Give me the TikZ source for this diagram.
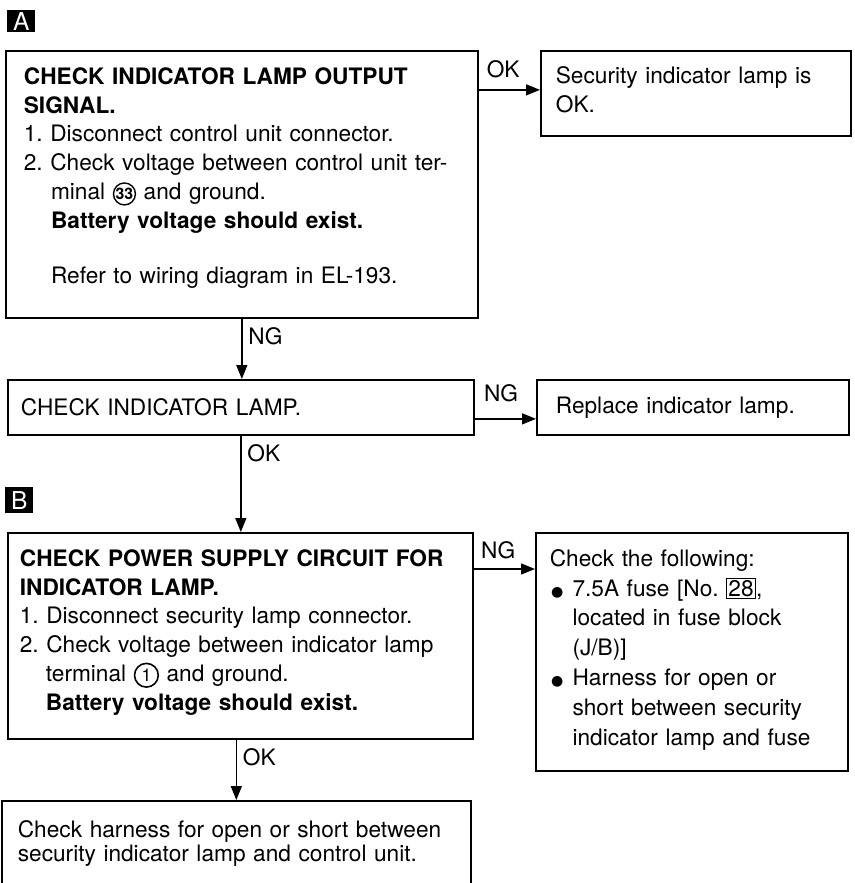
\documentclass[tikz,border=0pt]{standalone}
\usepackage{fontspec}
\setmainfont{TeX Gyre Heros}
\newfontfamily\symfont{DejaVu Sans}
\usepackage{tikz}
\usetikzlibrary{arrows.meta, positioning}

% circled terminal numbers, boxed fuse number, bullet, extra depth under a box text
\tikzset{termring/.style={draw, circle, anchor=center, text width={}, align=none, minimum width=0pt, minimum height=0pt}}
\newcommand{\termno}[1]{\tikz[baseline=(c.base)]\node[termring, line width=0.8pt, inner sep=0pt, minimum size=12.5pt, font=\small\bfseries] (c) {#1};}
\newcommand{\termnoB}[1]{\tikz[baseline=(c.base)]\node[termring, line width=0.9pt, inner sep=0pt, minimum size=13.5pt, font=\normalsize] (c) {#1};}
\newcommand{\fuseno}[1]{{\setlength\fboxsep{0.8pt}\setlength\fboxrule{0.5pt}\fbox{#1}}}
\newcommand{\dotitem}{\makebox[1em][l]{\hspace{0.05em}{\symfont\footnotesize ●}}}
\newcommand{\padbelow}[1]{\rule[-#1]{0pt}{#1}}

\begin{document}
\frenchspacing
\begin{tikzpicture}[x=0.02cm, y=-0.02cm,
    font=\fontsize{12.9pt}{16.4pt}\selectfont,
    box/.style={rectangle, draw, line width=1pt, align=left, anchor=north west, inner ysep=0pt},
    marker/.style={rectangle, fill=black, text=white, anchor=north west, inner sep=0pt, font=\fontsize{14pt}{14pt}\selectfont},
    arrow/.style={-{Triangle[length=0.28cm, width=0.22cm]}, line width=0.8pt}
]
    \useasboundingbox (0,0) rectangle (855,883);

    \node[marker, minimum width=0.56cm, minimum height=0.44cm] (markA) at (7,10) {A};
    \node[marker, minimum width=0.56cm, minimum height=0.52cm] (markB) at (5,487) {B};

    \node[box, inner xsep=0.36cm, text width=8.72cm, minimum height=5.34cm] (output) at (5,50) {\textbf{CHECK INDICATOR LAMP OUTPUT}\\
        \textbf{SIGNAL.}\\
        1. Disconnect control unit connector.\\
        2. Check voltage between control unit ter-\\
        \hspace*{1.2em}minal \termno{33} and ground.\\
        \hspace*{1.2em}\textbf{Battery voltage should exist.}\\[0.9\baselineskip]
        \hspace*{1.2em}Refer to wiring diagram in EL-193.\padbelow{0.36cm}};
    \node[box, inner xsep=0.3cm, text width=5.6cm, minimum height=1.7cm] (lampok) at (540,50) {Security indicator lamp is\\OK.\padbelow{0.15cm}};

    \node[box, inner xsep=0.26cm, text width=8.8cm, minimum height=1.1cm] (lamp) at (7,379) {CHECK INDICATOR LAMP.};
    \node[box, inner xsep=0.38cm, text width=5.48cm, minimum height=1.1cm] (replace) at (536,379) {Replace indicator lamp.};

    \node[box, inner xsep=0.24cm, text width=8.82cm, minimum height=4.12cm] (power) at (7,532) {\textbf{CHECK POWER SUPPLY CIRCUIT FOR}\\
        \textbf{INDICATOR LAMP.}\\
        1. Disconnect security lamp connector.\\
        2. Check voltage between indicator lamp\\
        \hspace*{1.15em}terminal \termnoB{1} and ground.\\
        \hspace*{1.15em}\textbf{Battery voltage should exist.}\padbelow{0.24cm}};
    \node[box, inner xsep=0.28cm, text width=5.68cm, minimum height=4.76cm, font=\fontsize{12.9pt}{17pt}\selectfont] (fuse) at (535,532) {Check the following:\\
        \dotitem 7.5A fuse [No. \fuseno{28},\\
        \hspace*{1em}located in fuse block\\
        \hspace*{1em}(J/B)]\\
        \dotitem Harness for open or\\
        \hspace*{1em}short between security\\
        \hspace*{1em}indicator lamp and fuse\padbelow{0.18cm}};

    \node[box, inner xsep=0.32cm, text width=8.74cm, minimum height=1.76cm, font=\fontsize{12.9pt}{14pt}\selectfont] (harness) at (1,800) {Check harness for open or short between\\
        security indicator lamp and control unit.\padbelow{0.16cm}};

    \draw[arrow] ([yshift=0.07cm]lampok.west -| output.east) -- node[above=3pt, pos=0.4] {OK} ([yshift=0.07cm]lampok.west);
    \draw[arrow] (output.south) -- node[right, pos=0.29] {NG} (output.south |- lamp.north);
    \draw[arrow] ([yshift=-0.23cm]lamp.east) -- node[above=6pt, pos=0.43] {NG} ([yshift=-0.23cm]replace.west);
    \draw[arrow] (lamp.south) -- node[right, pos=0.18] {OK} (lamp.south |- power.north);
    \draw[arrow] ([yshift=-0.74cm]power.north east) -- node[above=2pt, pos=0.4] {NG} ([yshift=-0.74cm]fuse.north west);
    \draw[arrow] (power.south -| harness.north) -- node[right, pos=0.29] {OK} (harness.north);
\end{tikzpicture}
\end{document}
